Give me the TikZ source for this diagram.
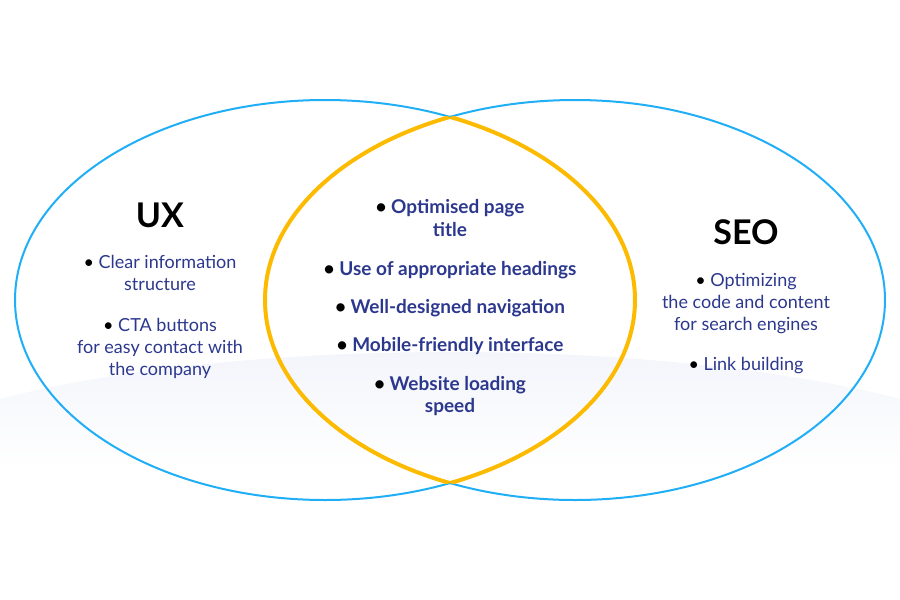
\documentclass[tikz,border=0pt]{standalone}
\usepackage{fontspec}
\setmainfont{Lato}
\usetikzlibrary{positioning}
\definecolor{ringblue}{RGB}{32,174,246}
\definecolor{lensyellow}{RGB}{252,186,0}
\definecolor{itemnavy}{RGB}{44,56,142}
\definecolor{bandgray}{RGB}{243,245,251}
\newcommand{\bul}{{\color{black}\textbullet}~}

\begin{document}
\begin{tikzpicture}[x=1pt,y=-1pt]
\tikzset{ring/.style = {draw=ringblue, line width=2pt},
         lens/.style = {draw=lensyellow, line width=4pt},
         item/.style = {text=itemnavy, align=center, font=\fontsize{18}{22}\selectfont},
         keyitem/.style = {item, font=\fontsize{19}{22.5}\selectfont\bfseries},
         heading/.style = {text=black, font=\fontsize{34}{40}\selectfont\bfseries}}
\useasboundingbox (0,0) rectangle (900,600);
% faint band behind the circles
\begin{scope}
    \clip (450,502) ellipse [x radius=620, y radius=150];
    \shade[top color=bandgray, bottom color=white] (0,350) rectangle (900,470);
\end{scope}
% ellipses
\draw[ring] (325,300) ellipse [x radius=310, y radius=200];
\draw[ring] (575,300) ellipse [x radius=310, y radius=200];
% overlap
\begin{scope}
    \clip (325,300) ellipse [x radius=310, y radius=200];
    \draw[lens] (575,300) ellipse [x radius=310, y radius=200];
\end{scope}
\begin{scope}
    \clip (575,300) ellipse [x radius=310, y radius=200];
    \draw[lens] (325,300) ellipse [x radius=310, y radius=200];
\end{scope}
% headings
\node[heading] (ux) at (160,215) {UX};
\node[heading] (seo) at (746,232) {SEO};
% UX items
\node[item] (uxa) at (160,273) {\bul Clear information\\structure};
\node[item] (uxb) at (160,348) {\bul CTA buttons\\for easy contact with\\the company};
% SEO items
\node[item] (seoa) at (746,304) {\bul Optimizing\\the code and content\\for search engines};
\node[item] (seob) at (746,366) {\bul Link building};
% shared items
\node[keyitem] (mida) at (450,218) {\bul Optimised page\\title};
\foreach \y/\name/\txt in {270/midb/Use of appropriate headings,
                           308/midc/Well-designed navigation,
                           346/midd/Mobile-friendly interface} {
    \node[keyitem] (\name) at (450,\y) {\bul \txt};
}
\node[keyitem] (mide) at (450,396) {\bul Website loading\\speed};
\end{tikzpicture}
\end{document}
